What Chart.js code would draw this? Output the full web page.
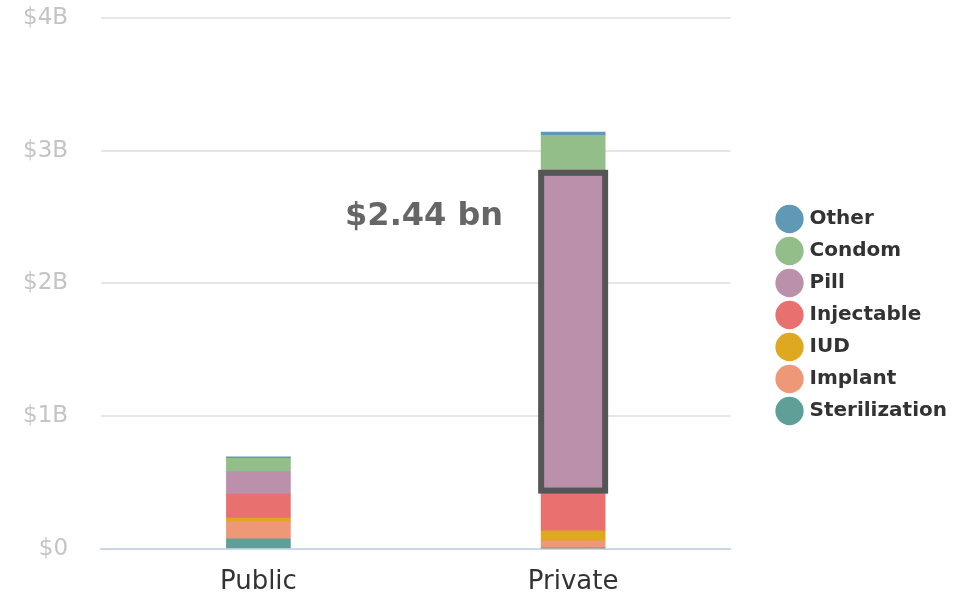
<!DOCTYPE html>
<html lang="en">
<head>
    <meta charset="UTF-8">
    <title>Contraceptive spending</title>
    <script src="https://cdn.jsdelivr.net/npm/chart.js"></script>
    <style>
        body { margin: 0; background: #fff; }
        #chart-container { width: 976px; height: 597px; }
    </style>
</head>
<body>
    <div id="chart-container">
        <canvas id="spendChart"></canvas>
    </div>
    <script>
        // values in billions of USD, bottom of stack first
        const sectors = ['Public', 'Private'];
        const sterilization = [0.075, 0.004];
        const implant = [0.13, 0.056];
        const iud = [0.027, 0.076];
        const injectable = [0.18, 0.28];
        const pill = [0.17, 2.44];
        const condom = [0.10, 0.26];
        const other = [0.012, 0.025];
        const yTicks = [0, 1, 2, 3, 4];
        const highlightText = '$2.44 bn';

        const colors = {
            Sterilization: '#5e9f97',
            Implant: '#ee9878',
            IUD: '#dea820',
            Injectable: '#e87170',
            Pill: '#bb90aa',
            Condom: '#93be8a',
            Other: '#5f99b6'
        };

        function ds(label, data) {
            return {
                label: label,
                data: data,
                backgroundColor: colors[label],
                borderWidth: 0,
                barThickness: 64
            };
        }

        // outline round the private pill segment and its label
        const highlight = {
            id: 'highlight',
            afterDatasetsDraw(chart) {
                const bar = chart.getDatasetMeta(4).data[1];
                const ctx = chart.ctx;
                const lw = 6;
                const left = bar.x - bar.width / 2;
                ctx.save();
                ctx.strokeStyle = '#555555';
                ctx.lineWidth = lw;
                ctx.strokeRect(left, bar.y + lw / 2, bar.width, bar.base - bar.y - lw);
                ctx.font = 'bold 32px "DejaVu Sans", sans-serif';
                ctx.fillStyle = '#666666';
                ctx.textAlign = 'right';
                ctx.textBaseline = 'middle';
                ctx.fillText(highlightText, left - 38, chart.scales.y.getPixelForValue(2.5));
                ctx.restore();
            }
        };

        // room between plot and legend, legend a little lower
        const legendGap = {
            id: 'legendGap',
            beforeInit(chart) {
                const fit = chart.legend.fit;
                chart.legend.fit = function () {
                    fit.bind(chart.legend)();
                    this.width += 37;
                };
            },
            afterLayout(chart) {
                chart.legend.left += 37;
                chart.legend.top += 2;
                chart.legend.bottom += 2;
            }
        };

        new Chart(document.getElementById('spendChart'), {
            type: 'bar',
            data: {
                labels: sectors,
                datasets: [
                    ds('Sterilization', sterilization),
                    ds('Implant', implant),
                    ds('IUD', iud),
                    ds('Injectable', injectable),
                    ds('Pill', pill),
                    ds('Condom', condom),
                    ds('Other', other)
                ]
            },
            options: {
                responsive: true,
                maintainAspectRatio: false,
                animation: false,
                layout: { padding: { top: 18, left: 23, right: 19, bottom: -11 } },
                scales: {
                    x: {
                        stacked: true,
                        grid: { display: false },
                        border: { color: '#ccd6eb', width: 2 },
                        ticks: { color: '#333333', font: { size: 26, family: 'DejaVu Sans' }, padding: 10 }
                    },
                    y: {
                        stacked: true,
                        min: 0,
                        max: 4,
                        afterBuildTicks(axis) { axis.ticks = yTicks.map(v => ({ value: v })); },
                        grid: { color: '#e6e6e6', lineWidth: 2, drawTicks: true, tickLength: 33, tickColor: 'rgba(0,0,0,0)' },
                        border: { display: false },
                        ticks: {
                            color: '#c4c4c4',
                            font: { size: 23, family: 'DejaVu Sans' },
                            padding: 0,
                            callback: v => v === 0 ? '$0' : '$' + v + 'B'
                        }
                    }
                },
                plugins: {
                    legend: {
                        position: 'right',
                        reverse: true,
                        labels: {
                            usePointStyle: true,
                            pointStyle: 'circle',
                            boxWidth: 24,
                            boxHeight: 24,
                            padding: 12,
                            color: '#333333',
                            font: { size: 20, weight: 'bold', family: 'DejaVu Sans' }
                        }
                    },
                    tooltip: { enabled: false }
                }
            },
            plugins: [highlight, legendGap]
        });
    </script>
</body>
</html>
